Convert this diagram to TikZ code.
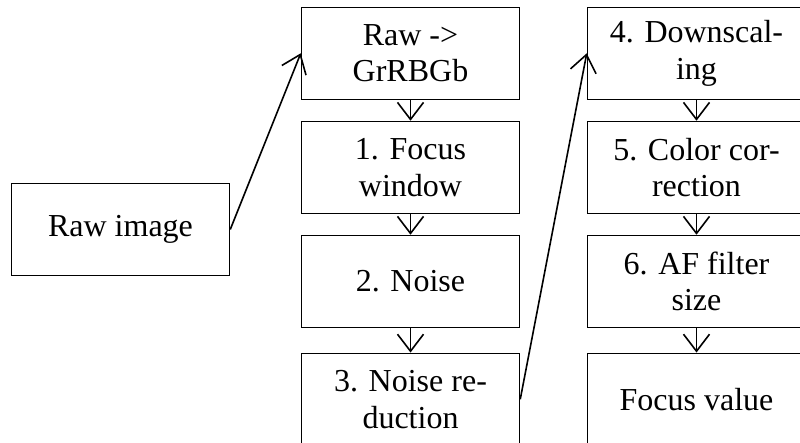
\documentclass[tikz,border=0pt]{standalone}
\usepackage{fontspec}
\setmainfont{Liberation Serif}
\usetikzlibrary{arrows.meta}
\begin{document}
\begin{tikzpicture}[x=1pt,y=-1pt,
  box/.style={draw, line width=1.5pt, minimum width=218pt, minimum height=92pt,
    align=center, inner sep=0pt, font=\fontsize{32}{36.6}\selectfont},
  arr/.style={line width=1.6pt, -{Straight Barb[length=17pt,width=26pt,line width=1.6pt]}}]
\useasboundingbox (0,0) rectangle (800,443);
\clip (0,0) rectangle (800,443);
\node[box] (raw) at (120.5,229.5) {Raw image};
\node[box] (g)  at (410.5,53.3)  {Raw ->\\GrRBGb};
\node[box] (f)  at (410.5,167.5) {1. Focus\\window};
\node[box] (n)  at (410.5,281.5) {2. Noise};
\node[box] (nr) at (410.5,399.3) {3. Noise re-\\duction};
\node[box] (d)  at (696.5,53.3)  {4. Downscal-\\ing};
\node[box] (c)  at (696.5,167.5) {5. Color cor-\\rection};
\node[box] (af) at (696.5,281.5) {6. AF filter\\size};
\node[box] (fv) at (696.5,399.3) {Focus value};
\draw[arr] (raw.east) -- (g.west);
\draw[arr] (g) -- (f);
\draw[arr] (f) -- (n);
\draw[arr] (n) -- (nr);
\draw[arr] (nr.east) -- (d.west);
\draw[arr] (d) -- (c);
\draw[arr] (c) -- (af);
\draw[arr] (af) -- (fv);
\end{tikzpicture}
\end{document}
